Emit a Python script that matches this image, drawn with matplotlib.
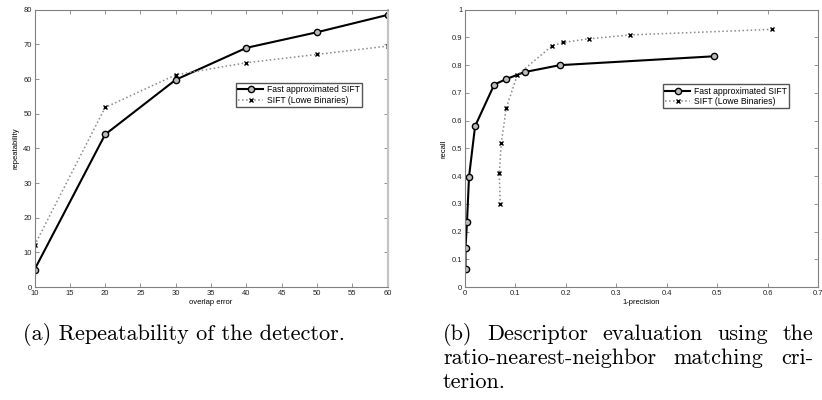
import matplotlib
matplotlib.use("Agg")
import matplotlib.pyplot as plt
import numpy as np

# ---- data: (a) repeatability ----
overlap_error = [10, 20, 30, 40, 50, 60]
rep_fast = [5.0, 44.0, 59.8, 69.0, 73.5, 78.5]
rep_sift = [12.0, 51.8, 61.2, 64.7, 67.1, 69.5]

# ---- data: (b) recall vs 1-precision ----
fast_1prec = [0.001, 0.001, 0.004, 0.008, 0.020, 0.058, 0.082, 0.118, 0.188, 0.494]
fast_recall = [0.065, 0.142, 0.236, 0.398, 0.580, 0.730, 0.750, 0.775, 0.800, 0.832]
sift_1prec = [0.070, 0.068, 0.072, 0.082, 0.104, 0.173, 0.195, 0.245, 0.327, 0.609]
sift_recall = [0.298, 0.410, 0.520, 0.647, 0.765, 0.870, 0.882, 0.895, 0.909, 0.929]

label_fast = "Fast approximated SIFT"
label_sift = "SIFT (Lowe Binaries)"

a_xticks = [10, 15, 20, 25, 30, 35, 40, 45, 50, 55, 60]
a_yticks = [0, 10, 20, 30, 40, 50, 60, 70, 80]
b_xticks = [0, 0.1, 0.2, 0.3, 0.4, 0.5, 0.6, 0.7]
b_xticklabels = ["0", "0.1", "0.2", "0.3", "0.4", "0.5", "0.6", "0.7"]
b_yticks = [0, 0.1, 0.2, 0.3, 0.4, 0.5, 0.6, 0.7, 0.8, 0.9, 1.0]
b_yticklabels = ["0", "0.1", "0.2", "0.3", "0.4", "0.5", "0.6", "0.7", "0.8", "0.9", "1"]

caption_a = "(a) Repeatability of the detector."
caption_b_lines = ["(b) Descriptor evaluation using the",
                   "ratio-nearest-neighbor matching cri-",
                   "terion."]

plt.rcParams['font.family'] = ['Liberation Sans', 'DejaVu Sans']

W, H = 822, 400
fig = plt.figure(figsize=(W / 100, H / 100), dpi=100)

def px_axes(l, t, r, b):
    return fig.add_axes([l / W, 1 - b / H, (r - l) / W, (b - t) / H])

axA = px_axes(34.5, 9.7, 387.7, 287)
axB = px_axes(465, 9.7, 818, 287)

spine_col = "#808080"
fs = 5.5

def style(ax):
    for s in ax.spines.values():
        s.set_color(spine_col)
        s.set_linewidth(0.8)
    ax.tick_params(direction="in", top=True, right=True, length=3, width=0.6,
                   color=spine_col, labelsize=fs, labelcolor="#222222", pad=2)

fast_kw = dict(color="black", linestyle="-", linewidth=1.5, marker="o",
               markersize=4.5, markerfacecolor="#bbbbbb", markeredgecolor="black",
               markeredgewidth=1.0)
sift_kw = dict(color="#8a8a8a", linestyle=":", linewidth=1.1, marker="x",
               markersize=3.5, markeredgecolor="black", markeredgewidth=1.0)

leg_kw = dict(loc="upper right", fontsize=6.2, frameon=True, fancybox=False,
              edgecolor="#555555", framealpha=1, handlelength=2.9, borderpad=0.3,
              labelspacing=0.15, handletextpad=0.4, borderaxespad=0)

# (a)
axA.plot(overlap_error, rep_fast, label=label_fast, **fast_kw)
axA.plot(overlap_error, rep_sift, label=label_sift, **sift_kw)
axA.set_xlim(10, 60)
axA.set_ylim(0, 80)
axA.set_xticks(a_xticks)
axA.set_yticks(a_yticks)
style(axA)
axA.spines["right"].set_color("#c4c4c4")
axA.spines["right"].set_linewidth(1.6)
axA.set_xlabel("overlap error", fontsize=fs, labelpad=1.5)
axA.set_ylabel("repeatability", fontsize=fs, labelpad=3)
axA.legend(bbox_to_anchor=(0.928, 0.736), **leg_kw)

# (b)
axB.plot(fast_1prec, fast_recall, label=label_fast, **fast_kw)
axB.plot(sift_1prec, sift_recall, label=label_sift, **sift_kw)
axB.set_xlim(0, 0.7)
axB.set_ylim(0, 1)
axB.set_xticks(b_xticks)
axB.set_xticklabels(b_xticklabels)
axB.set_yticks(b_yticks)
axB.set_yticklabels(b_yticklabels)
style(axB)
axB.set_xlabel("1-precision", fontsize=fs, labelpad=1.5)
axB.set_ylabel("recall", fontsize=fs, labelpad=3)
axB.legend(bbox_to_anchor=(0.918, 0.732), **leg_kw)

# captions
cap_fs = 16
cap_font = "cmr10"
fig.text(23 / W, 1 - 340 / H, caption_a, fontsize=cap_fs, family=cap_font,
         ha="left", va="baseline")

renderer = fig.canvas.get_renderer()
x_left, x_right = 443.0, 813.0
baselines = [340, 364, 388]

def word_width(w):
    t = fig.text(0, 0, w, fontsize=cap_fs, family=cap_font)
    bb = t.get_window_extent(renderer=renderer)
    t.remove()
    return bb.width

for i, line in enumerate(caption_b_lines):
    y = 1 - baselines[i] / H
    if i == len(caption_b_lines) - 1:
        fig.text(x_left / W, y, line, fontsize=cap_fs, family=cap_font,
                 ha="left", va="baseline")
        continue
    words = line.split(" ")
    widths = [word_width(w) for w in words]
    gap = (x_right - x_left - sum(widths)) / (len(words) - 1)
    x = x_left
    for w, wd in zip(words, widths):
        fig.text(x / W, y, w, fontsize=cap_fs, family=cap_font,
                 ha="left", va="baseline")
        x += wd + gap

fig.savefig("out.png", dpi=100)
